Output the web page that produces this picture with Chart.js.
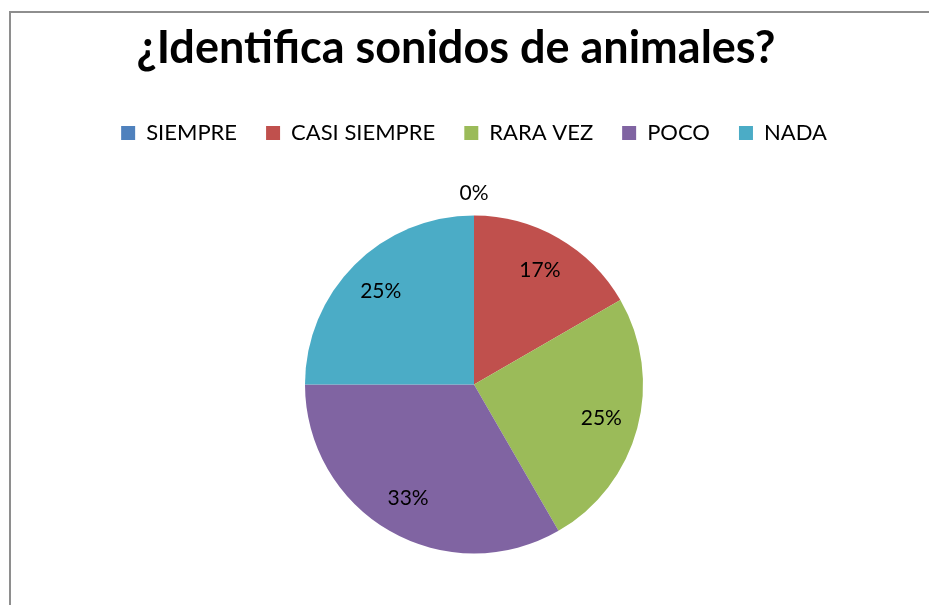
<!DOCTYPE html>
<html>
<head>
<meta charset="utf-8">
<script src="https://cdn.jsdelivr.net/npm/chart.js@4"></script>
<style>
  html, body { margin: 0; padding: 0; background: #fff; overflow: hidden; }
  #frame { position: absolute; left: 9px; top: 11px; width: 1000px; height: 700px;
           border-left: 2px solid #8e8e8e; border-top: 2px solid #8e8e8e; }
  #wrap { position: absolute; left: 0; top: 0; width: 929px; height: 605px; overflow: hidden; }
</style>
</head>
<body>
<div id="frame"></div>
<div id="wrap"><canvas id="c" width="929" height="700"></canvas></div>
<script>
const titleText = '¿Identifica sonidos de animales?';
const categories = ['SIEMPRE', 'CASI SIEMPRE', 'RARA VEZ', 'POCO', 'NADA'];
const counts = [0, 2, 3, 4, 3];
const colors = ['#4F81BD', '#C0504D', '#9BBB59', '#8064A2', '#4BACC6'];

const FONT = 'Lato, "Open Sans", sans-serif';

const labelPlugin = {
  id: 'pieLabels',
  afterDraw(chart) {
    const ctx = chart.ctx;
    // title
    ctx.save();
    ctx.fillStyle = '#000';
    ctx.font = 'bold 45px ' + FONT;
    ctx.textAlign = 'center';
    ctx.textBaseline = 'alphabetic';
    ctx.fillText(titleText, 456, 63);
    ctx.restore();

    const meta = chart.getDatasetMeta(0);
    const data = chart.data.datasets[0].data;
    const total = data.reduce((a, b) => a + b, 0);
    ctx.save();
    ctx.fillStyle = '#000';
    ctx.font = '21px ' + FONT;
    ctx.textAlign = 'center';
    ctx.textBaseline = 'middle';
    meta.data.forEach((arc, i) => {
      const p = arc.getProps(['x', 'y', 'startAngle', 'endAngle', 'outerRadius'], true);
      const mid = (p.startAngle + p.endAngle) / 2;
      const r = data[i] === 0 ? p.outerRadius + 22 : p.outerRadius * 0.78;
      const pct = Math.round(data[i] / total * 100) + '%';
      ctx.fillText(pct, p.x + Math.cos(mid) * r, p.y + Math.sin(mid) * r);
    });
    ctx.restore();
  }
};

new Chart(document.getElementById('c'), {
  type: 'pie',
  data: {
    labels: categories,
    datasets: [{
      data: counts,
      backgroundColor: colors,
      borderWidth: 0,
      radius: 169
    }]
  },
  options: {
    responsive: false,
    animation: false,
    layout: { padding: { top: 93, bottom: 85, left: 19, right: 0 } },
    plugins: {
      title: { display: false },
      tooltip: { enabled: false },
      legend: {
        display: true,
        position: 'top',
        labels: {
          boxWidth: 14,
          boxHeight: 14,
          padding: 29,
          color: '#000',
          font: { family: FONT, size: 22 }
        }
      }
    }
  },
  plugins: [labelPlugin]
});
</script>
</body>
</html>
